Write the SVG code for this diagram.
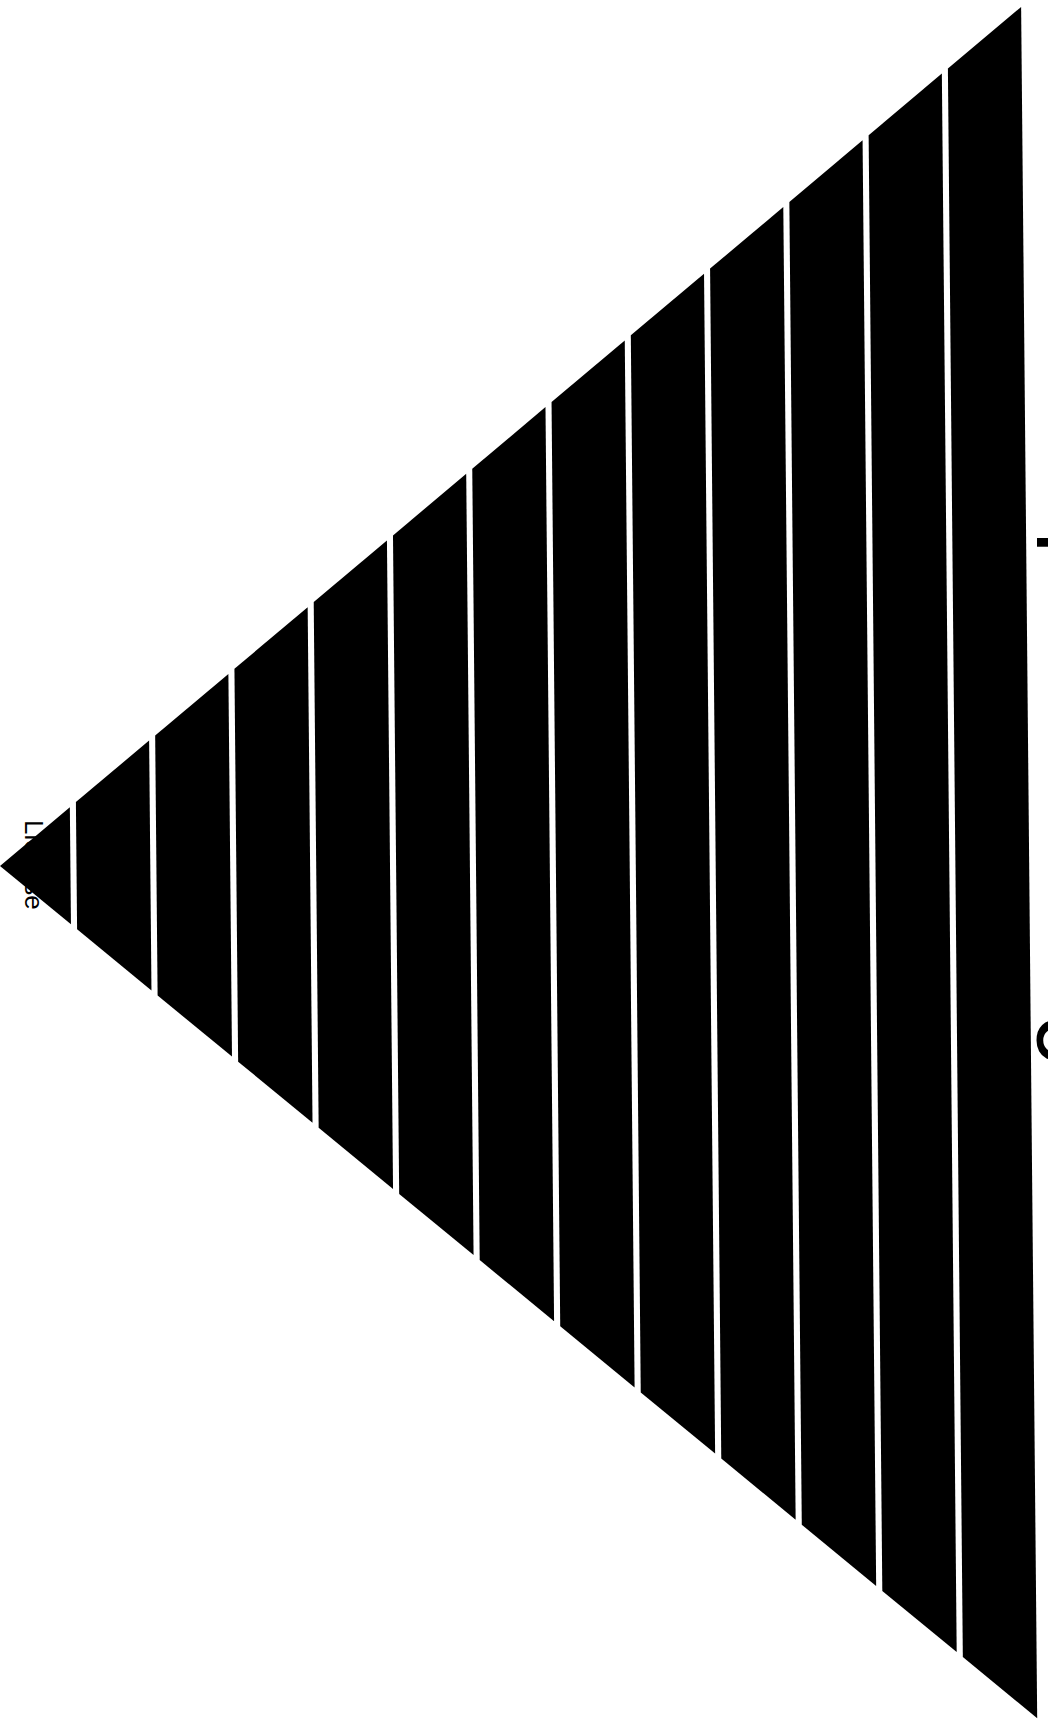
<svg xmlns="http://www.w3.org/2000/svg" width="1048" height="1719" viewBox="0 0 1048 1719">
<style>
.tier{fill:#000;stroke:none}
.lbl{font-family:"Liberation Sans",Arial,sans-serif;fill:#000}
.title{font-family:"Liberation Sans",Arial,sans-serif;font-weight:bold;fill:#000}
</style>
<rect x="0" y="0" width="1048" height="1719" fill="#fff"/>
<g id="label-left">
<text class="lbl" font-size="26" transform="translate(25,820) rotate(90)" x="0" y="0">License</text>
</g>
<g id="title-right">
<text class="title" font-size="60" transform="translate(1037,524) rotate(90)" x="0" y="0">T</text>
<text class="title" font-size="60" transform="translate(1037,1017) rotate(90)" x="0" y="0">O</text>
</g>
<g id="pyramid">
<g id="tier-0"><polygon class="tier" points="0,866 69.85,807.2 70.95,924.3"/></g>
<g id="tier-1"><polygon class="tier" points="75.9,802.1 149.12,740.5 151.47,990.4 77.1,929.3"/></g>
<g id="tier-2"><polygon class="tier" points="155.17,735.5 228.39,673.9 231.99,1056.6 157.62,995.5"/></g>
<g id="tier-3"><polygon class="tier" points="234.44,668.8 307.67,607.2 312.51,1122.8 238.14,1061.7"/></g>
<g id="tier-4"><polygon class="tier" points="313.72,602.1 386.94,540.5 393.04,1188.9 318.66,1127.8"/></g>
<g id="tier-5"><polygon class="tier" points="392.99,535.4 466.21,473.8 473.56,1255.1 399.18,1194.0"/></g>
<g id="tier-6"><polygon class="tier" points="472.26,468.7 545.49,407.1 554.08,1321.2 479.7,1260.1"/></g>
<g id="tier-7"><polygon class="tier" points="551.54,402.0 624.76,340.4 634.6,1387.4 560.22,1326.3"/></g>
<g id="tier-8"><polygon class="tier" points="630.81,335.3 704.03,273.7 715.12,1453.5 640.75,1392.4"/></g>
<g id="tier-9"><polygon class="tier" points="710.08,268.6 783.3,207.0 795.64,1519.7 721.27,1458.6"/></g>
<g id="tier-10"><polygon class="tier" points="789.35,201.9 862.58,140.3 876.16,1585.9 801.79,1524.8"/></g>
<g id="tier-11"><polygon class="tier" points="868.63,135.2 941.85,73.6 956.68,1652.0 882.31,1590.9"/></g>
<g id="tier-12"><polygon class="tier" points="947.9,68.5 1021.12,6.9 1037.2,1718.2 962.83,1657.1"/></g>
</g>
<g id="connectors"></g>
</svg>
